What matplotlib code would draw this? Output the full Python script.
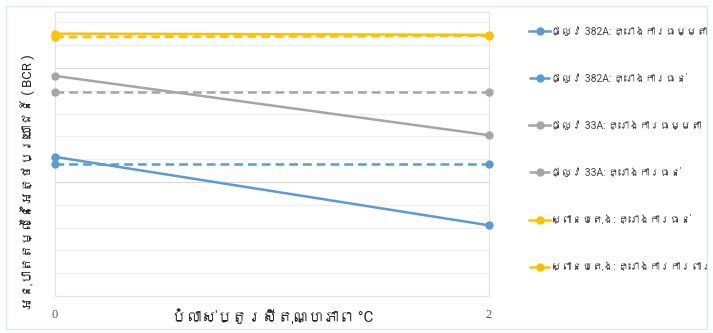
import matplotlib
matplotlib.use('Agg')
import matplotlib.pyplot as plt
from matplotlib import font_manager
from matplotlib.ft2font import FT2Font
from matplotlib.patches import Rectangle
from matplotlib.ticker import MultipleLocator

# temperature change (x) and BCR values
temp_change = [0, 2]

road382_normal = [1.22, 0.62]
road382_resist = [1.16, 1.16]
road33_normal = [1.93, 1.41]
road33_resist = [1.79, 1.79]
bridge_resist = [2.30, 2.29]
bridge_protect = [2.27, 2.28]

labels = [
    'ផ្លូវ 382A: គ្រោងការធម្មតា',
    'ផ្លូវ 382A: គ្រោងការធន់',
    'ផ្លូវ 33A: គ្រោងការធម្មតា',
    'ផ្លូវ 33A: គ្រោងការធន់',
    'ស្ពានបេតុង: គ្រោងការធន់',
    'ស្ពានបេតុង: គ្រោងការការពារ',
]
x_label = 'បំលាស់ប្តូរសីតុណ្ហភាព °C'
y_label = 'អនុបាតតម្លៃនៃអត្ថប្រយោជន៍ ( BCR )'


def find_khmer_font():
    for f in font_manager.fontManager.ttflist:
        try:
            if 0x1780 in FT2Font(f.fname).get_charmap():
                return f.name
        except Exception:
            pass
    return None


def main():
    families = ['Roboto']
    khmer = find_khmer_font()
    if khmer:
        families.append(khmer)
    families.append('DejaVu Sans')
    plt.rcParams['font.family'] = families

    fig = plt.figure(figsize=(7.13, 3.33), dpi=100)
    ax = fig.add_axes([0.0771, 0.111, 0.6087, 0.853])

    series = [
        (road382_normal, '#5B9BD5', '-'),
        (road382_resist, '#5B9BD5', '--'),
        (road33_normal, '#A5A5A5', '-'),
        (road33_resist, '#A5A5A5', '--'),
        (bridge_resist, '#FFC000', '-'),
        (bridge_protect, '#FFC000', '--'),
    ]
    for (vals, color, ls), label in zip(series, labels):
        line, = ax.plot(temp_change, vals, color=color, linestyle=ls,
                        linewidth=1.8, marker='o', markersize=5, label=label,
                        clip_on=False, zorder=3)
        if ls == '--':
            line.set_dashes((3.5, 2))

    ax.set_xlim(0, 2)
    ax.set_ylim(0, 2.49)
    ax.set_xticks([0, 2])
    ax.set_xticklabels(['0', '2'], family='Liberation Serif', fontsize=9,
                       color='#595959')
    ax.yaxis.set_major_locator(MultipleLocator(1.0))
    ax.yaxis.set_minor_locator(MultipleLocator(0.2))
    ax.tick_params(axis='both', which='both', length=0)
    ax.tick_params(axis='x', pad=9)
    ax.set_yticklabels([])
    ax.grid(True, which='major', axis='y', color='#D9D9D9', linewidth=0.8)
    ax.grid(True, which='minor', axis='y', color='#EFEFEF', linewidth=0.8)
    for s in ax.spines.values():
        s.set_color('#E3E3E3')
        s.set_linewidth(0.8)

    ax.set_xlabel(x_label, fontsize=11, color='#222222', labelpad=-8)
    ax.set_ylabel(y_label, fontsize=9.5, color='#222222')
    ax.yaxis.set_label_coords(-0.045, 0.40)

    ax.legend(loc='upper left', bbox_to_anchor=(0.735, 0.935),
              bbox_transform=fig.transFigure, frameon=False, fontsize=7.5,
              handlelength=2.0, handletextpad=0.1, labelspacing=3.56,
              borderpad=0, numpoints=1, labelcolor='#404040')

    fig.patches.append(Rectangle((0.008, 0.012), 0.984, 0.97,
                                 transform=fig.transFigure, fill=False,
                                 edgecolor='#DCE8EE', linewidth=1))

    fig.savefig('out.png', dpi=100, facecolor='white')


if __name__ == '__main__':
    main()
